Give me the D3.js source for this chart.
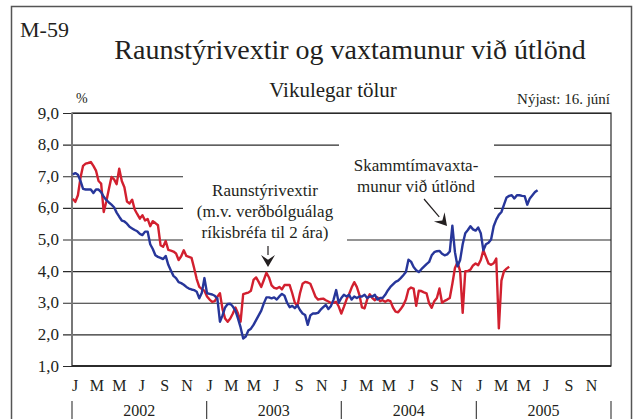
<!DOCTYPE html>
<html>
<head>
<meta charset="utf-8">
<script src="https://cdn.jsdelivr.net/npm/d3@7"></script>
<style>
  body { margin: 0; background: #fff; }
  svg text { font-family: "Liberation Serif", "Times New Roman", serif; fill: #231f20; }
</style>
</head>
<body>
<svg id="chart" width="638" height="419"></svg>
<script>
// weekly values, first week 3. jan 2002
var startDate = new Date(2002, 0, 3);

// Skammtímavaxtamunur við útlönd (blue)
var spreadValues = [
  7.06,7.1,7.05,6.85,6.6,6.58,6.58,6.58,6.47,6.58,6.58,6.5,6.35,6.25,6.17,6.1,6.02,5.85,5.72,5.6,
  5.57,5.5,5.4,5.35,5.3,5.26,5.18,5.14,5.25,5.25,4.85,4.7,4.5,4.45,4.42,4.38,4.48,4.2,4.02,3.85,
  3.78,3.65,3.62,3.57,3.5,3.45,3.42,3.4,3.35,3.14,3.32,3.78,
  3.3,3.28,3.26,3.22,3.14,2.4,2.6,2.85,2.96,2.97,2.88,2.75,2.5,2.22,1.87,1.93,2.12,2.18,2.3,2.45,
  2.6,2.75,2.98,3.17,3.17,3.14,3.17,3.1,3.2,3.28,3.22,3.0,2.86,2.9,2.83,2.92,2.77,2.66,2.61,2.3,
  2.6,2.66,2.66,2.68,2.78,2.86,2.93,2.8,2.9,3.1,3.4,3.0,
  3.15,3.25,3.2,3.25,3.1,3.2,3.15,3.2,3.2,3.25,3.15,3.2,3.2,3.25,3.1,3.15,3.15,3.25,3.39,3.5,
  3.58,3.66,3.7,3.78,3.87,3.97,4.36,4.3,4.13,4.03,3.97,4.06,4.14,4.22,4.29,4.5,4.6,4.63,4.64,4.55,
  4.5,4.53,4.62,5.44,4.6,4.15,4.35,4.85,5.2,5.3,5.42,5.32,
  5.28,5.38,5.2,4.66,4.85,4.9,5.0,5.42,5.63,5.78,5.87,6.1,6.33,6.38,6.4,6.3,6.4,6.4,6.38,6.37,
  6.1,6.3,6.4,6.5,6.56
];

// Raunstýrivextir (red)
var realRateValues = [
  6.29,6.19,6.4,6.95,7.33,7.4,7.42,7.45,7.33,7.18,6.85,6.77,5.87,6.2,6.6,6.98,6.9,6.75,7.24,6.85,
  6.65,6.2,6.14,6.26,5.95,5.8,5.66,5.77,5.6,5.65,5.42,5.58,5.52,5.45,4.82,4.77,4.95,4.67,4.65,4.62,
  4.56,4.35,4.47,4.66,4.48,4.45,4.42,4.1,3.75,3.5,3.43,3.38,
  3.2,3.1,3.03,3.05,3.19,3.3,2.8,2.5,2.4,2.5,2.66,2.85,2.66,2.4,3.27,3.3,3.32,3.38,3.72,3.8,
  3.66,3.5,3.72,3.95,3.8,3.55,3.47,3.45,3.5,3.42,3.56,3.56,3.56,3.3,3.0,2.9,3.3,3.6,3.66,3.64,
  3.6,3.4,3.19,3.1,3.12,3.13,3.08,3.04,2.99,3.0,3.03,2.88,
  2.66,2.87,3.1,3.27,3.48,3.65,3.5,3.25,2.85,2.82,3.1,3.27,3.15,3.08,3.17,3.05,3.08,3.03,3.08,3.05,
  2.85,2.72,2.7,2.8,2.92,3.1,3.42,3.48,3.45,2.9,3.38,3.37,3.33,3.3,2.98,2.84,3.05,3.15,3.45,3.0,
  3.06,3.1,3.15,3.6,4.1,4.28,4.0,2.68,4.0,4.0,4.05,4.18,
  4.24,4.19,4.35,4.66,4.45,4.24,4.2,4.25,4.4,2.19,3.7,4.0,4.08,4.14
];

var yTicks = [1, 2, 3, 4, 5, 6, 7, 8, 9];
var monthLabels = ["J", "M", "M", "J", "S", "N"];
var years = [2002, 2003, 2004, 2005];

var svg = d3.select("#chart");

var plotLeft = 72, plotRight = 611, plotTop = 113, plotBottom = 366;

var xScale = d3.scaleTime()
    .domain([new Date(2002, 0, 1), new Date(2006, 0, 1)])
    .range([plotLeft, plotRight]);

var yScale = d3.scaleLinear()
    .domain([1, 9])
    .range([plotBottom, plotTop]);

function toSeries(values) {
    return values.map(function(v, i) {
        return { date: d3.timeDay.offset(startDate, 7 * i), value: v };
    });
}

// outer frame
svg.append("rect")
    .attr("x", 11.5).attr("y", 6.5)
    .attr("width", 620).attr("height", 430)
    .style("fill", "none")
    .style("stroke", "#555")
    .style("stroke-width", 1.5);

// gridlines with tick stubs on the left
svg.append("g")
    .attr("transform", "translate(" + plotRight + ",0)")
    .call(d3.axisLeft(yScale).tickValues(yTicks).tickSize(plotRight - plotLeft + 9).tickFormat(""))
    .call(function(g) {
        g.select(".domain").remove();
        g.selectAll("line").style("stroke", "#2b2b2b").style("stroke-width", 1.2);
    });

// white boxes behind the annotation texts
svg.append("rect").attr("x", 183).attr("y", 158).attr("width", 164).attr("height", 92).style("fill", "#fff");
svg.append("rect").attr("x", 339).attr("y", 128).attr("width", 155).attr("height", 88).style("fill", "#fff");

// plot frame
svg.append("rect")
    .attr("x", plotLeft).attr("y", plotTop)
    .attr("width", plotRight - plotLeft).attr("height", plotBottom - plotTop)
    .style("fill", "none")
    .style("stroke", "#2b2b2b")
    .style("stroke-width", 1.2);
svg.append("line")
    .attr("x1", plotLeft).attr("x2", plotLeft)
    .attr("y1", plotTop).attr("y2", plotBottom)
    .style("stroke", "#777").style("stroke-width", 2);
svg.append("line")
    .attr("x1", plotLeft).attr("x2", plotRight)
    .attr("y1", plotBottom).attr("y2", plotBottom)
    .style("stroke", "#2b2b2b").style("stroke-width", 2);

// y labels
svg.selectAll(".ylab")
    .data(yTicks)
    .enter().append("text")
    .attr("class", "ylab")
    .attr("x", 59)
    .attr("y", function(d) { return yScale(d) + 5.5; })
    .style("text-anchor", "end")
    .style("font-size", "17px")
    .text(function(d) { return d3.format(".1f")(d).replace(".", ","); });

// month labels every second month
var months = [];
years.forEach(function(y) {
    monthLabels.forEach(function(m, i) { months.push({ date: new Date(y, i * 2, 1), label: m }); });
});
svg.selectAll(".mlab")
    .data(months)
    .enter().append("text")
    .attr("class", "mlab")
    .attr("x", function(d) { return xScale(d.date) + 3; })
    .attr("y", 391)
    .style("text-anchor", "middle")
    .style("font-size", "16px")
    .text(function(d) { return d.label; });

// year labels and separators
svg.selectAll(".yrlab")
    .data(years)
    .enter().append("text")
    .attr("class", "yrlab")
    .attr("x", function(d) { return xScale(new Date(d, 6, 2)); })
    .attr("y", 416)
    .style("text-anchor", "middle")
    .style("font-size", "16px")
    .text(function(d) { return d; });
svg.selectAll(".sep")
    .data(years.concat([2006]))
    .enter().append("line")
    .attr("class", "sep")
    .attr("x1", function(d) { return xScale(new Date(d, 0, 1)); })
    .attr("x2", function(d) { return xScale(new Date(d, 0, 1)); })
    .attr("y1", 401).attr("y2", 425)
    .style("stroke", "#444").style("stroke-width", 1.2);

// the two series
var line = d3.line()
    .x(function(d) { return xScale(d.date); })
    .y(function(d) { return yScale(d.value); });

svg.append("path")
    .datum(toSeries(realRateValues))
    .attr("d", line)
    .style("fill", "none")
    .style("stroke", "#d2202f")
    .style("stroke-width", 2.4)
    .style("stroke-linejoin", "round");

svg.append("path")
    .datum(toSeries(spreadValues))
    .attr("d", line)
    .style("fill", "none")
    .style("stroke", "#27369a")
    .style("stroke-width", 2.4)
    .style("stroke-linejoin", "round");

// titles
svg.append("text").attr("x", 20).attr("y", 37).style("font-size", "22px").text("M-59");
svg.append("text").attr("x", 350).attr("y", 59).style("text-anchor", "middle")
    .style("font-size", "28px").text("Raunstýrivextir og vaxtamunur við útlönd");
svg.append("text").attr("x", 333).attr("y", 97).style("text-anchor", "middle")
    .style("font-size", "21px").text("Vikulegar tölur");
svg.append("text").attr("x", 610).attr("y", 104).style("text-anchor", "end")
    .style("font-size", "15px").text("Nýjast: 16. júní");
svg.append("text").attr("x", 76).attr("y", 103).style("font-size", "14px").text("%");

// annotations
var note1 = ["Raunstýrivextir", "(m.v. verðbólguálag", "ríkisbréfa til 2 ára)"];
svg.selectAll(".note1")
    .data(note1)
    .enter().append("text")
    .attr("class", "note1")
    .attr("x", 265)
    .attr("y", function(d, i) { return 196 + i * 21; })
    .style("text-anchor", "middle")
    .style("font-size", "17px")
    .text(function(d) { return d; });

var note2 = ["Skammtímavaxta-", "munur við útlönd"];
svg.selectAll(".note2")
    .data(note2)
    .enter().append("text")
    .attr("class", "note2")
    .attr("x", 416)
    .attr("y", function(d, i) { return 171 + i * 21; })
    .style("text-anchor", "middle")
    .style("font-size", "17px")
    .text(function(d) { return d; });

// arrows
function arrow(x1, y1, x2, y2) {
    var a = Math.atan2(y2 - y1, x2 - x1), len = 12, w = 7;
    var bx = x2 - len * Math.cos(a), by = y2 - len * Math.sin(a);
    svg.append("line")
        .attr("x1", x1).attr("y1", y1).attr("x2", bx).attr("y2", by)
        .style("stroke", "#231f20").style("stroke-width", 1.2);
    svg.append("path")
        .attr("d", "M" + x2 + "," + y2 +
            "L" + (bx + w * Math.sin(a)) + "," + (by - w * Math.cos(a)) +
            "L" + (x2 - 0.6 * len * Math.cos(a)) + "," + (y2 - 0.6 * len * Math.sin(a)) +
            "L" + (bx - w * Math.sin(a)) + "," + (by + w * Math.cos(a)) + "Z")
        .style("fill", "#231f20");
}
arrow(268, 246, 268, 267);
arrow(424, 199, 447, 226);
</script>
</body>
</html>
